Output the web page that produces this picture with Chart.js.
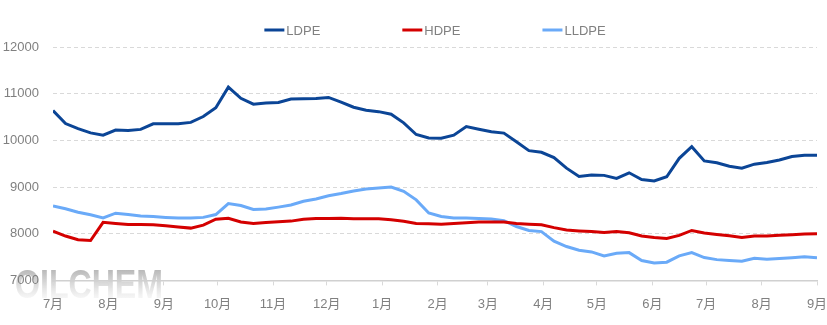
<!DOCTYPE html>
<html>
<head>
<meta charset="utf-8">
<script src="https://cdn.jsdelivr.net/npm/chart.js@4/dist/chart.umd.min.js"></script>
<style>
    html, body { margin: 0; padding: 0; background: #fff; }
    #wrap { width: 827px; height: 325px; }
</style>
</head>
<body>
<div id="wrap"><canvas id="peChart"></canvas></div>
<script>
// 周度价格（元/吨）
const weeks = [
    '2022-07-01', '2022-07-08', '2022-07-15', '2022-07-22', '2022-07-29',
    '2022-08-05', '2022-08-12', '2022-08-19', '2022-08-26', '2022-09-02',
    '2022-09-09', '2022-09-16', '2022-09-23', '2022-09-30', '2022-10-07',
    '2022-10-14', '2022-10-21', '2022-10-28', '2022-11-04', '2022-11-11',
    '2022-11-18', '2022-11-25', '2022-12-02', '2022-12-09', '2022-12-16',
    '2022-12-23', '2022-12-30', '2023-01-06', '2023-01-13', '2023-01-20',
    '2023-01-27', '2023-02-03', '2023-02-10', '2023-02-17', '2023-02-24',
    '2023-03-03', '2023-03-10', '2023-03-17', '2023-03-24', '2023-03-31',
    '2023-04-07', '2023-04-14', '2023-04-21', '2023-04-28', '2023-05-05',
    '2023-05-12', '2023-05-19', '2023-05-26', '2023-06-02', '2023-06-09',
    '2023-06-16', '2023-06-23', '2023-06-30', '2023-07-07', '2023-07-14',
    '2023-07-21', '2023-07-28', '2023-08-04', '2023-08-11', '2023-08-18',
    '2023-08-25', '2023-09-01'
];

const ldpe = [
    10640, 10360, 10250, 10160, 10110, 10220, 10210, 10235, 10355, 10355,
    10355, 10385, 10510, 10700, 11140, 10900, 10775, 10800, 10810, 10885,
    10890, 10895, 10920, 10820, 10710, 10645, 10615, 10560, 10375, 10125,
    10050, 10045, 10110, 10295, 10240, 10185, 10155, 9970, 9780, 9745,
    9630, 9405, 9225, 9260, 9250, 9185, 9305, 9160, 9130, 9220,
    9615, 9865, 9560, 9520, 9445, 9405, 9490, 9525, 9580, 9655,
    9680, 9680
];

const hdpe = [
    8055, 7950, 7870, 7855, 8245, 8220, 8200, 8200, 8190, 8170,
    8145, 8120, 8185, 8310, 8330, 8250, 8220, 8240, 8255, 8270,
    8310, 8325, 8325, 8330, 8320, 8320, 8320, 8300, 8265, 8220,
    8215, 8205, 8220, 8235, 8250, 8250, 8250, 8220, 8205, 8190,
    8130, 8080, 8060, 8045, 8025, 8045, 8020, 7950, 7920, 7900,
    7965, 8070, 8015, 7985, 7955, 7920, 7950, 7950, 7965, 7980,
    7995, 8000
];

const lldpe = [
    8595, 8535, 8460, 8405, 8340, 8440, 8410, 8380, 8370, 8350,
    8335, 8335, 8350, 8410, 8645, 8605, 8520, 8530, 8570, 8615,
    8695, 8745, 8815, 8860, 8915, 8960, 8980, 9000, 8910, 8725,
    8445, 8370, 8335, 8335, 8325, 8315, 8280, 8155, 8070, 8045,
    7840, 7725, 7645, 7610, 7525, 7580, 7595, 7425, 7375, 7390,
    7525, 7595, 7490, 7445, 7425, 7410, 7475, 7455, 7470, 7485,
    7505, 7485
];

// 横轴月份刻度
const monthStarts = [
    '2022-07-01', '2022-08-01', '2022-09-01', '2022-10-01', '2022-11-01',
    '2022-12-01', '2023-01-01', '2023-02-01', '2023-03-01', '2023-04-01',
    '2023-05-01', '2023-06-01', '2023-07-01', '2023-08-01', '2023-09-01'
];
const monthLabels = ['7月', '8月', '9月', '10月', '11月', '12月', '1月', '2月', '3月', '4月', '5月', '6月', '7月', '8月', '9月'];

const yTicks = [7000, 8000, 9000, 10000, 11000, 12000];

const DAY = 86400000;
const t0 = Date.parse(weeks[0]);
const toDay = (d) => (Date.parse(d) - t0) / DAY;
const monthDays = monthStarts.map(toDay);

const toPoints = (values) => values.map((v, i) => ({ x: toDay(weeks[i]), y: v }));

const FONT = "'Liberation Sans', 'Noto Sans CJK SC', sans-serif";
const GREY = '#808080';

// 顶部图例（线段 + 文字）
const lineLegend = {
    id: 'lineLegend',
    afterDraw(chart) {
        const { ctx, chartArea } = chart;
        const sets = chart.data.datasets;
        const lineW = 20, gap = 2, spacing = 82, y = 30;
        ctx.save();
        ctx.font = '13px ' + FONT;
        const widths = sets.map(ds => lineW + gap + ctx.measureText(ds.label).width);
        const total = widths.reduce((a, b) => a + b, 0) + spacing * (sets.length - 1);
        let x = (chartArea.left + chartArea.right) / 2 - total / 2;
        sets.forEach((ds, i) => {
            ctx.strokeStyle = ds.borderColor;
            ctx.lineWidth = 3;
            ctx.beginPath();
            ctx.moveTo(x, y);
            ctx.lineTo(x + lineW, y);
            ctx.stroke();
            ctx.fillStyle = GREY;
            ctx.textBaseline = 'middle';
            ctx.textAlign = 'left';
            ctx.fillText(ds.label, x + lineW + gap, y + 1);
            x += widths[i] + spacing;
        });
        ctx.restore();
    }
};

// 水印
const watermark = {
    id: 'watermark',
    beforeDraw(chart) {
        const { ctx } = chart;
        ctx.save();
        const g = ctx.createLinearGradient(0, 267, 0, 299);
        g.addColorStop(0, 'rgba(150,150,150,0.75)');
        g.addColorStop(0.5, 'rgba(190,190,190,0.6)');
        g.addColorStop(1, 'rgba(235,235,235,0.4)');
        ctx.fillStyle = g;
        ctx.font = "bold 41px 'Liberation Sans', sans-serif";
        ctx.textBaseline = 'alphabetic';
        ctx.fillText('OILCHEM', 15, 298, 148);
        ctx.restore();
    }
};

const ctx = document.getElementById('peChart').getContext('2d');

new Chart(ctx, {
    type: 'line',
    data: {
        datasets: [
            { label: 'LDPE', data: toPoints(ldpe), borderColor: '#0b4596' },
            { label: 'HDPE', data: toPoints(hdpe), borderColor: '#d40000' },
            { label: 'LLDPE', data: toPoints(lldpe), borderColor: '#6aaaf8' }
        ]
    },
    options: {
        responsive: true,
        maintainAspectRatio: false,
        animation: false,
        layout: { padding: { top: 47, right: 10, bottom: 2, left: 0 } },
        elements: {
            line: { borderWidth: 3, tension: 0, fill: false },
            point: { radius: 0 }
        },
        plugins: {
            legend: { display: false },
            tooltip: { enabled: false }
        },
        scales: {
            x: {
                type: 'linear',
                min: monthDays[0],
                max: monthDays[monthDays.length - 1],
                afterBuildTicks: (scale) => {
                    scale.ticks = monthDays.map(v => ({ value: v }));
                },
                afterFit: (scale) => { scale.paddingRight = 0; scale.paddingLeft = 0; },
                grid: { drawOnChartArea: false, drawTicks: true, tickLength: 5, color: '#d9d9d9' },
                border: { display: true, color: '#d0d0d0', width: 1.5 },
                ticks: {
                    autoSkip: false,
                    maxRotation: 0,
                    padding: 11,
                    color: GREY,
                    font: { family: FONT, size: 13 },
                    callback: (value, index) => monthLabels[index]
                }
            },
            y: {
                min: yTicks[0],
                max: yTicks[yTicks.length - 1],
                afterBuildTicks: (scale) => {
                    scale.ticks = yTicks.map(v => ({ value: v }));
                },
                afterFit: (scale) => { scale.width = 53; },
                grid: { drawTicks: false, color: '#d9d9d9' },
                border: { display: false, dash: [4, 3] },
                ticks: {
                    padding: 14,
                    color: GREY,
                    font: { family: FONT, size: 13 },
                    callback: (value) => String(value)
                }
            }
        }
    },
    plugins: [watermark, lineLegend]
});
</script>
</body>
</html>
